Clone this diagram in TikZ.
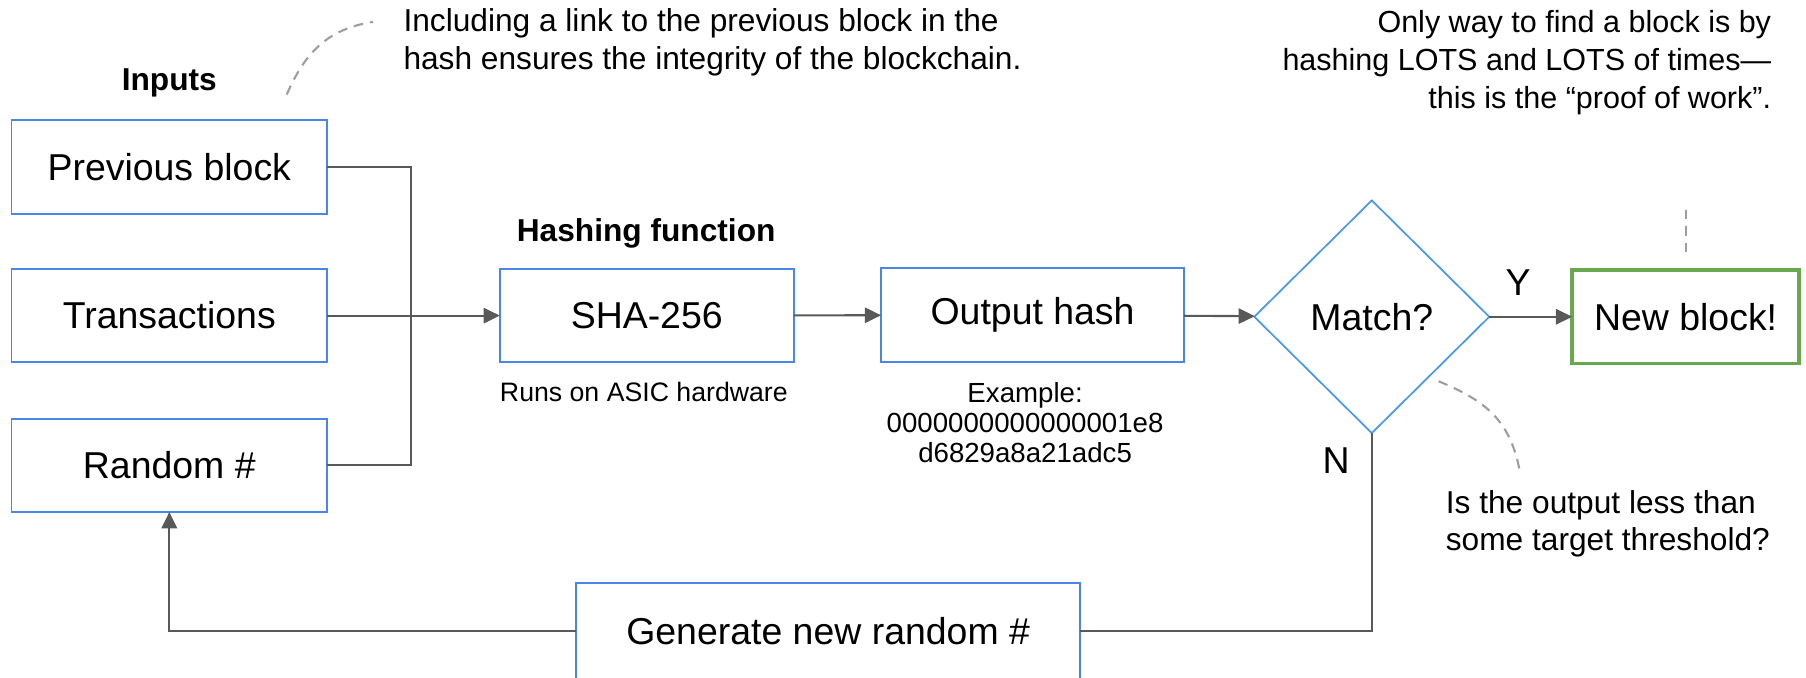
\documentclass[tikz,border=0pt]{standalone}
\usepackage{fontspec}
\setmainfont{Liberation Sans}
\usetikzlibrary{arrows.meta,shapes.geometric}

\definecolor{boxblue}{HTML}{4A86E8}
\definecolor{diablue}{HTML}{4A98E8}
\definecolor{okgreen}{HTML}{6AA84F}
\definecolor{wire}{HTML}{595959}
\definecolor{notegray}{HTML}{9E9E9E}

\tikzset{
  bigtext/.style={font=\fontsize{19.5}{23}\selectfont},
  notetext/.style={font=\fontsize{16.5}{19.8}\selectfont, inner sep=0pt},
  smalltext/.style={font=\fontsize{13.9}{15.6}\selectfont, inner sep=0pt},
  stagebox/.style={bigtext, draw=boxblue, line width=1pt, inner sep=0pt, outer sep=0pt,
                   minimum height=48.6pt},
  decision/.style={bigtext, diamond, draw=diablue, line width=0.9pt, inner sep=0pt,
                   outer sep=0pt, minimum width=122.4pt, minimum height=121.2pt},
  goalbox/.style={bigtext, draw=okgreen, line width=1.8pt, inner sep=0pt, outer sep=0pt,
                  minimum height=48.6pt, minimum width=118.2pt},
  wireline/.style={draw=wire, line width=1.1pt},
  flow/.style={wireline, -{Triangle[length=8.5pt,width=8pt]}},
  callout/.style={draw=notegray, line width=1.1pt, dash pattern=on 5pt off 3.6pt},
}

\begin{document}
\begin{tikzpicture}[x=0.6pt,y=-0.6pt]
\useasboundingbox (0,0) rectangle (1568,588);

% input blocks
\node[notetext, font=\fontsize{16.5}{19.8}\selectfont\bfseries] (inputs) at (147,72) {Inputs};
\node[stagebox, minimum width=164.4pt] (prev)  at (147,145) {Previous block};
\node[stagebox, minimum width=164.4pt] (trans) at (147,274) {Transactions};
\node[stagebox, minimum width=164.4pt] (rand)  at (147,404) {Random \#};

% hashing stage
\node[notetext, font=\fontsize{16.5}{19.8}\selectfont\bfseries] (hashhead) at (561,203) {Hashing function};
\node[stagebox, minimum width=153pt] (sha) at (561.5,274) {SHA-256};
\node[smalltext] (asic) at (559,340) {Runs on ASIC hardware};

\node[stagebox, minimum width=157.8pt] (out) at (896.5,273.5) {Output hash};
\node[smalltext, align=center, font=\fontsize{14.4}{15.6}\selectfont] (example) at (890,367)
  {Example:\\0000000000000001e8\\d6829a8a21adc5};

% decision and result
\node[decision] (match) at (1191,275) {Match?};
\node[goalbox] (newb) at (1463.5,275) {New block!};
\node[stagebox, minimum width=262.8pt, minimum height=50.4pt] (gen) at (719,548) {Generate new random \#};

% input bus
\coordinate (bus) at (357,274);
\draw[wireline] (prev.east) -| (bus);
\draw[wireline] (rand.east) -| (bus);
\draw[flow] (trans) -- (sha);

% main flow
\draw[flow] (sha) -- (out);
\draw[flow] (out) -- (match);
\draw[flow] (match) -- (newb);
\node[bigtext, inner sep=0pt] (ylab) at (1318,245) {Y};

% retry loop
\draw[wireline] (match.south) |- (gen.east);
\node[bigtext, inner sep=0pt] (nlab) at (1160,400) {N};
\draw[flow] (gen.west) -| (rand.south);

% annotations
\node[notetext, align=left, anchor=west] (linknote) at (350,37)
  {Including a link to the previous block in the\\hash ensures the integrity of the blockchain.};
\node[notetext, align=right, anchor=east, font=\fontsize{15.9}{19.8}\selectfont] (worknote) at (1538,54)
  {Only way to find a block is by\\hashing LOTS and LOTS of times—\\this is the “proof of work”.};
\node[notetext, align=left, anchor=west, font=\fontsize{16.5}{19.2}\selectfont] (threshnote) at (1255,455)
  {Is the output less than\\some target threshold?};

% callout leaders
\coordinate (l1a) at (249,82);
\coordinate (l1b) at (324,19);
\draw[callout] (l1a) .. controls (265,45) and (285,25) .. (l1b);

\coordinate (l2a) at (1464,182);
\coordinate (l2b) at (1464,220);
\draw[callout] (l2a) -- (l2b);

\coordinate (l3a) at (1249,331);
\coordinate (l3b) at (1320,412);
\draw[callout] (l3a) .. controls (1290,348) and (1312,365) .. (l3b);
\end{tikzpicture}
\end{document}
